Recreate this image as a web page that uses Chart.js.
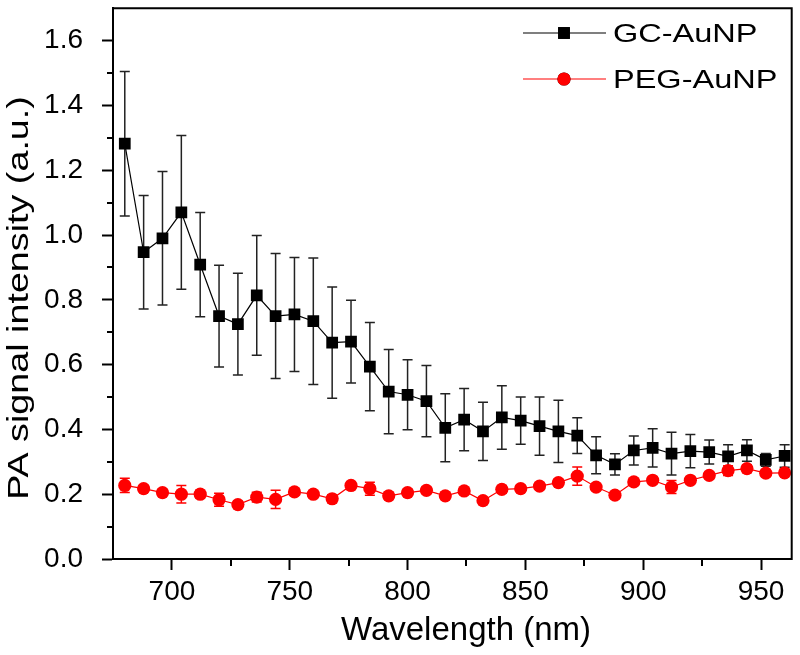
<!DOCTYPE html>
<html>
<head>
<meta charset="utf-8">
<script src="https://cdn.jsdelivr.net/npm/chart.js@4/dist/chart.umd.min.js"></script>
<style>
  html, body { margin: 0; padding: 0; background: #fff; }
  #chart { display: block; }
</style>
</head>
<body>
<canvas id="chart" width="800" height="655"></canvas>
<script>
// data
const wavelengths = [680, 688, 696, 704, 712, 720, 728, 736, 744, 752, 760, 768, 776, 784, 792, 800, 808, 816,
  824, 832, 840, 848, 856, 864, 872, 880, 888, 896, 904, 912, 920, 928, 936, 944, 952, 960];

const gcValues = [1.282, 0.947, 0.990, 1.070, 0.909, 0.750, 0.725, 0.814, 0.750, 0.755, 0.734, 0.668, 0.671, 0.594,
  0.517, 0.507, 0.487, 0.405, 0.430, 0.394, 0.437, 0.427, 0.410, 0.394, 0.381, 0.320, 0.292, 0.335, 0.343, 0.325,
  0.333, 0.330, 0.317, 0.335, 0.306, 0.318];
const gcErrors = [0.223, 0.175, 0.206, 0.237, 0.161, 0.157, 0.157, 0.185, 0.193, 0.176, 0.195, 0.172, 0.128, 0.136,
  0.130, 0.108, 0.110, 0.105, 0.096, 0.090, 0.098, 0.073, 0.090, 0.096, 0.055, 0.057, 0.033, 0.045, 0.059, 0.066,
  0.051, 0.037, 0.036, 0.033, 0.020, 0.035];

const pegValues = [0.227, 0.217, 0.205, 0.200, 0.200, 0.183, 0.168, 0.191, 0.184, 0.207, 0.200, 0.186, 0.227, 0.217,
  0.195, 0.205, 0.212, 0.195, 0.210, 0.180, 0.215, 0.217, 0.225, 0.236, 0.256, 0.222, 0.197, 0.238, 0.243, 0.222,
  0.243, 0.258, 0.273, 0.279, 0.265, 0.266];
const pegErrors = [0.022, 0.010, 0.010, 0.027, 0.012, 0.020, 0.010, 0.015, 0.028, 0.010, 0.010, 0.012, 0.010, 0.020,
  0.010, 0.010, 0.010, 0.010, 0.010, 0.010, 0.012, 0.010, 0.010, 0.010, 0.028, 0.010, 0.010, 0.010, 0.010, 0.020,
  0.010, 0.010, 0.015, 0.012, 0.010, 0.010];

const xTicks = [700, 750, 800, 850, 900, 950];
const xMinorTicks = [725, 775, 825, 875, 925];
const yTicks = [0, 0.2, 0.4, 0.6, 0.8, 1.0, 1.2, 1.4, 1.6];
const yMinorTicks = [0.1, 0.3, 0.5, 0.7, 0.9, 1.1, 1.3, 1.5];

const FONT = "'Liberation Sans', Arial, sans-serif";

const toPoints = vals => vals.map((v, i) => ({ x: wavelengths[i], y: v }));

// error bars, drawn under the lines and markers
const errorBars = {
  id: 'errorBars',
  beforeDatasetsDraw(chart) {
    const ctx = chart.ctx;
    const yScale = chart.scales.y;
    chart.data.datasets.forEach((ds, di) => {
      const meta = chart.getDatasetMeta(di);
      ctx.save();
      ctx.strokeStyle = ds.errColor;
      ctx.lineWidth = 1.5;
      meta.data.forEach((pt, i) => {
        const v = ds.data[i].y, e = ds.errors[i];
        const top = yScale.getPixelForValue(v + e);
        const bot = yScale.getPixelForValue(v - e);
        ctx.beginPath();
        ctx.moveTo(pt.x, top); ctx.lineTo(pt.x, bot);
        ctx.moveTo(pt.x - 5, top); ctx.lineTo(pt.x + 5, top);
        ctx.moveTo(pt.x - 5, bot); ctx.lineTo(pt.x + 5, bot);
        ctx.stroke();
      });
      ctx.restore();
    });
  }
};

// frame, minor ticks, axis titles and legend
const decorations = {
  id: 'decorations',
  afterDraw(chart) {
    const ctx = chart.ctx;
    const a = chart.chartArea;
    const xs = chart.scales.x, ys = chart.scales.y;
    ctx.save();
    ctx.strokeStyle = '#000';
    ctx.lineWidth = 2;
    ctx.beginPath();
    ctx.moveTo(a.left - 1, a.top); ctx.lineTo(a.right, a.top); ctx.lineTo(a.right, a.bottom + 1);
    ctx.stroke();

    ctx.lineWidth = 2;
    ctx.beginPath();
    xMinorTicks.forEach(v => {
      const x = Math.round(xs.getPixelForValue(v));
      ctx.moveTo(x, a.bottom); ctx.lineTo(x, a.bottom + 7);
    });
    yMinorTicks.forEach(v => {
      const y = Math.round(ys.getPixelForValue(v));
      ctx.moveTo(a.left, y); ctx.lineTo(a.left - 6, y);
    });
    ctx.stroke();

    // axis titles
    ctx.fillStyle = '#000';
    ctx.font = '33px ' + FONT;
    ctx.textAlign = 'center';
    ctx.textBaseline = 'alphabetic';
    ctx.fillText('Wavelength (nm)', 466, 640);

    ctx.save();
    ctx.translate(28, 298);
    ctx.rotate(-Math.PI / 2);
    ctx.scale(1.3, 1);
    ctx.font = '29px ' + FONT;
    ctx.fillText('PA signal intensity (a.u.)', 0, 0);
    ctx.restore();

    // legend: line + marker + label
    chart.data.datasets.forEach((ds, i) => {
      const y = 33 + i * 46;
      ctx.strokeStyle = ds.borderColor;
      ctx.lineWidth = 1.2;
      ctx.beginPath();
      ctx.moveTo(523, y); ctx.lineTo(606, y);
      ctx.stroke();
      Chart.helpers.drawPoint(ctx, {
        pointStyle: ds.pointStyle, radius: ds.pointRadius, rotation: 0, borderWidth: 0
      }, 564, y);
      ctx.fillStyle = ds.pointBackgroundColor;
      ctx.fill();
      ctx.save();
      ctx.translate(613, y + 9);
      ctx.scale(1.25, 1);
      ctx.fillStyle = '#000';
      ctx.textAlign = 'left';
      ctx.font = '26px ' + FONT;
      ctx.fillText(ds.label, 0, 0);
      ctx.restore();
    });
    ctx.restore();
  }
};

new Chart(document.getElementById('chart'), {
  type: 'line',
  data: {
    datasets: [
      {
        label: 'GC-AuNP',
        data: toPoints(gcValues),
        errors: gcErrors,
        errColor: '#222',
        borderColor: '#000',
        borderWidth: 1.2,
        pointStyle: 'rect',
        pointRadius: 8.3,
        pointBackgroundColor: '#000',
        pointBorderWidth: 0,
        order: 2
      },
      {
        label: 'PEG-AuNP',
        data: toPoints(pegValues),
        errors: pegErrors,
        errColor: '#ff0000',
        borderColor: '#ff0000',
        borderWidth: 1.2,
        pointStyle: 'circle',
        pointRadius: 6.6,
        pointBackgroundColor: '#ff0000',
        pointBorderWidth: 0,
        order: 1
      }
    ]
  },
  options: {
    responsive: false,
    animation: false,
    layout: { padding: { top: 5, right: 8, left: 0, bottom: 0 } },
    plugins: { legend: { display: false }, tooltip: { enabled: false } },
    scales: {
      x: {
        type: 'linear',
        min: 675,
        max: 963,
        afterBuildTicks: s => { s.ticks = xTicks.map(v => ({ value: v })); },
        afterFit: s => { s.height = 96; s.paddingLeft = 0; s.paddingRight = 0; },
        grid: { drawOnChartArea: false, drawTicks: true, tickLength: 11, tickWidth: 2, tickColor: '#000' },
        border: { color: '#000', width: 2 },
        ticks: { color: '#000', font: { size: 28, family: FONT }, padding: 5, maxRotation: 0, autoSkip: false }
      },
      y: {
        min: 0,
        max: 1.7,
        afterBuildTicks: s => { s.ticks = yTicks.map(v => ({ value: v })); },
        afterFit: s => { s.width = 113; s.paddingTop = 0; s.paddingBottom = 0; },
        grid: { drawOnChartArea: false, drawTicks: true, tickLength: 11, tickWidth: 2, tickColor: '#000' },
        border: { color: '#000', width: 2 },
        ticks: { color: '#000', font: { size: 28, family: FONT }, padding: 19, callback: v => v.toFixed(1) }
      }
    }
  },
  plugins: [errorBars, decorations]
});
</script>
</body>
</html>
